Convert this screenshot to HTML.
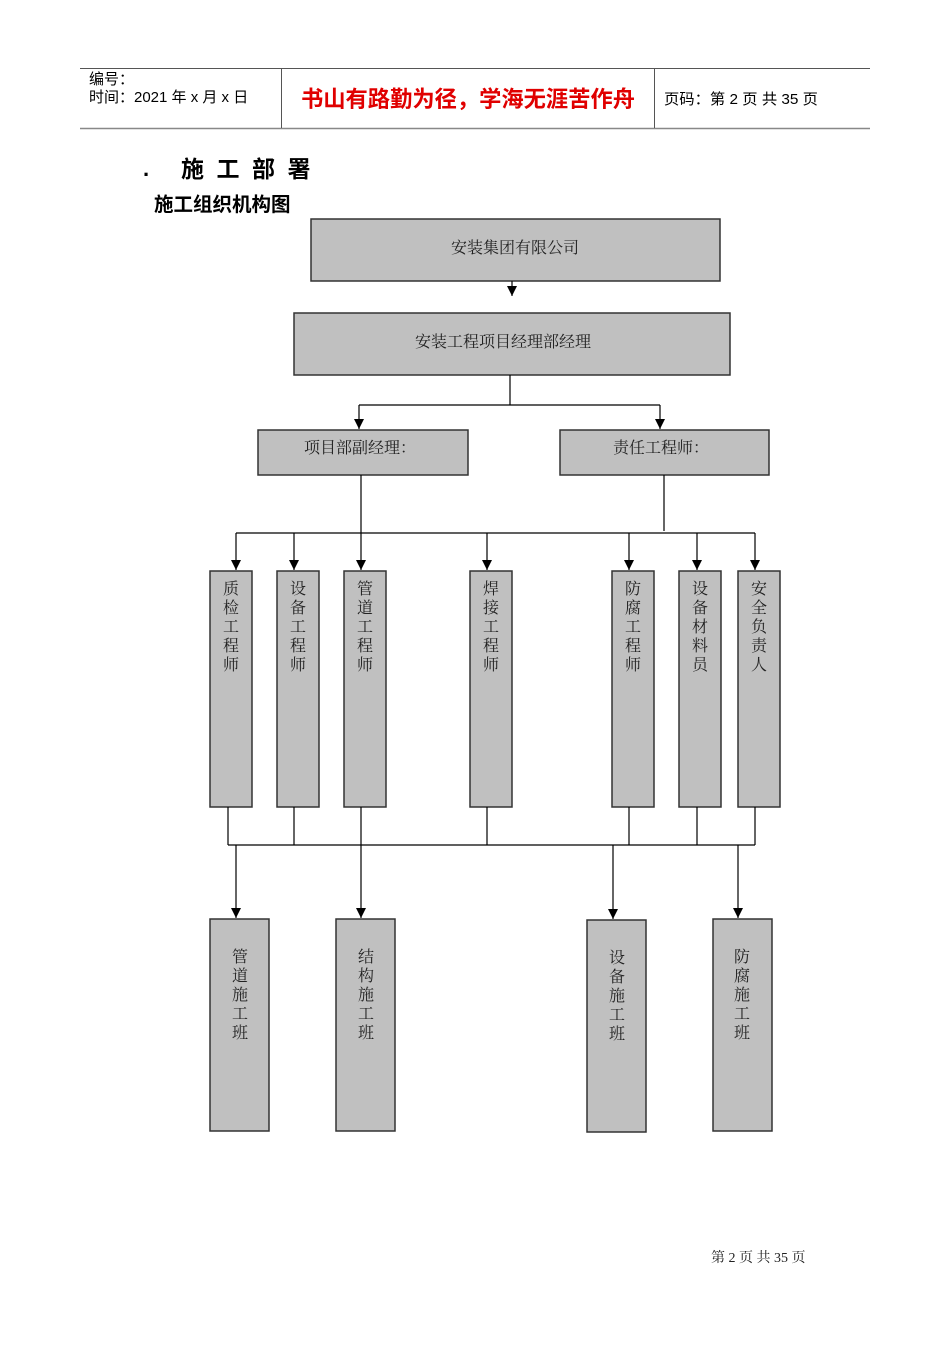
<!DOCTYPE html>
<html><head><meta charset="utf-8"><style>
body{margin:0;background:#fff;}
svg text{font-family:"Liberation Serif","Noto Serif CJK SC",serif;}
.s{font-family:"Liberation Sans","Noto Sans CJK SC",sans-serif !important;}
</style></head><body>
<svg width="950" height="1344" xmlns="http://www.w3.org/2000/svg">
<defs>
<marker id="d" markerWidth="10" markerHeight="10" refX="5" refY="10" orient="0" markerUnits="userSpaceOnUse"><path d="M0,0 L10,0 L5,10 z" fill="#000"/></marker></defs>
<!-- header -->
<line x1="80" y1="68.5" x2="870" y2="68.5" stroke="#555" stroke-width="1"/>
<line x1="80" y1="128.5" x2="870" y2="128.5" stroke="#888" stroke-width="1.5"/>
<line x1="281.5" y1="68" x2="281.5" y2="128" stroke="#555"/>
<line x1="654.5" y1="68" x2="654.5" y2="128" stroke="#555"/>
<text class="s" x="89" y="84" font-size="15">编号：</text>
<text class="s" x="89" y="102" font-size="15">时间：2021 年 x 月 x 日</text>
<text class="s" x="301" y="107" font-size="22.5" fill="#e00000" font-weight="bold" textLength="334" lengthAdjust="spacingAndGlyphs">书山有路勤为径，学海无涯苦作舟</text>
<text class="s" x="664" y="104" font-size="15" textLength="154" lengthAdjust="spacingAndGlyphs">页码：第 2 页 共 35 页</text>
<text class="s" x="143" y="176" font-size="22" font-weight="bold">.</text>
<text class="s" x="181" y="177" font-size="23" font-weight="bold" letter-spacing="12.5">施工部署</text>
<text class="s" x="154" y="211" font-size="19.5" font-weight="bold">施工组织机构图</text>
<g fill="#c0c0c0" stroke="#333" stroke-width="1.5">
<rect x="311" y="219" width="409" height="62"/>
<rect x="294" y="313" width="436" height="62"/>
<rect x="258" y="430" width="210" height="45"/>
<rect x="560" y="430" width="209" height="45"/>
<rect x="210" y="571" width="42" height="236"/>
<rect x="277" y="571" width="42" height="236"/>
<rect x="344" y="571" width="42" height="236"/>
<rect x="470" y="571" width="42" height="236"/>
<rect x="612" y="571" width="42" height="236"/>
<rect x="679" y="571" width="42" height="236"/>
<rect x="738" y="571" width="42" height="236"/>
<rect x="210" y="919" width="59" height="212"/>
<rect x="336" y="919" width="59" height="212"/>
<rect x="587" y="920" width="59" height="212"/>
<rect x="713" y="919" width="59" height="212"/>
</g>
<g stroke="#000" stroke-width="1.2" fill="none">
<line x1="512" y1="281" x2="512" y2="296" marker-end="url(#d)"/>
<line x1="510" y1="375" x2="510" y2="405"/>
<line x1="359" y1="405" x2="660" y2="405"/>
<line x1="359" y1="405" x2="359" y2="429" marker-end="url(#d)"/>
<line x1="660" y1="405" x2="660" y2="429" marker-end="url(#d)"/>
<line x1="361" y1="475" x2="361" y2="533"/>
<line x1="664" y1="475" x2="664" y2="531"/>
<line x1="236" y1="533" x2="755" y2="533"/>
<line x1="236" y1="533" x2="236" y2="570" marker-end="url(#d)"/>
<line x1="294" y1="533" x2="294" y2="570" marker-end="url(#d)"/>
<line x1="361" y1="533" x2="361" y2="570" marker-end="url(#d)"/>
<line x1="487" y1="533" x2="487" y2="570" marker-end="url(#d)"/>
<line x1="629" y1="533" x2="629" y2="570" marker-end="url(#d)"/>
<line x1="697" y1="533" x2="697" y2="570" marker-end="url(#d)"/>
<line x1="755" y1="533" x2="755" y2="570" marker-end="url(#d)"/>
<path d="M228 807V845M294 807V845M361 807V845M487 807V845M629 807V845M697 807V845M755 807V845M228 845H755"/>
<line x1="236" y1="845" x2="236" y2="918" marker-end="url(#d)"/>
<line x1="361" y1="845" x2="361" y2="918" marker-end="url(#d)"/>
<line x1="613" y1="845" x2="613" y2="919" marker-end="url(#d)"/>
<line x1="738" y1="845" x2="738" y2="918" marker-end="url(#d)"/>
</g>
<g font-size="16" fill="#222" text-anchor="middle">
<text x="515" y="253">安装集团有限公司</text>
<text x="503" y="347">安装工程项目经理部经理</text>
<text x="360" y="453">项目部副经理：</text>
<text x="661" y="453">责任工程师：</text>
</g>
<g font-size="16" fill="#222" text-anchor="middle">
<text x="231" y="594"><tspan x="231">质</tspan><tspan x="231" dy="19">检</tspan><tspan x="231" dy="19">工</tspan><tspan x="231" dy="19">程</tspan><tspan x="231" dy="19">师</tspan></text>
<text x="298" y="594"><tspan x="298">设</tspan><tspan x="298" dy="19">备</tspan><tspan x="298" dy="19">工</tspan><tspan x="298" dy="19">程</tspan><tspan x="298" dy="19">师</tspan></text>
<text x="365" y="594"><tspan x="365">管</tspan><tspan x="365" dy="19">道</tspan><tspan x="365" dy="19">工</tspan><tspan x="365" dy="19">程</tspan><tspan x="365" dy="19">师</tspan></text>
<text x="491" y="594"><tspan x="491">焊</tspan><tspan x="491" dy="19">接</tspan><tspan x="491" dy="19">工</tspan><tspan x="491" dy="19">程</tspan><tspan x="491" dy="19">师</tspan></text>
<text x="633" y="594"><tspan x="633">防</tspan><tspan x="633" dy="19">腐</tspan><tspan x="633" dy="19">工</tspan><tspan x="633" dy="19">程</tspan><tspan x="633" dy="19">师</tspan></text>
<text x="700" y="594"><tspan x="700">设</tspan><tspan x="700" dy="19">备</tspan><tspan x="700" dy="19">材</tspan><tspan x="700" dy="19">料</tspan><tspan x="700" dy="19">员</tspan></text>
<text x="759" y="594"><tspan x="759">安</tspan><tspan x="759" dy="19">全</tspan><tspan x="759" dy="19">负</tspan><tspan x="759" dy="19">责</tspan><tspan x="759" dy="19">人</tspan></text>
<text x="240" y="962"><tspan x="240">管</tspan><tspan x="240" dy="19">道</tspan><tspan x="240" dy="19">施</tspan><tspan x="240" dy="19">工</tspan><tspan x="240" dy="19">班</tspan></text>
<text x="366" y="962"><tspan x="366">结</tspan><tspan x="366" dy="19">构</tspan><tspan x="366" dy="19">施</tspan><tspan x="366" dy="19">工</tspan><tspan x="366" dy="19">班</tspan></text>
<text x="617" y="963"><tspan x="617">设</tspan><tspan x="617" dy="19">备</tspan><tspan x="617" dy="19">施</tspan><tspan x="617" dy="19">工</tspan><tspan x="617" dy="19">班</tspan></text>
<text x="742" y="962"><tspan x="742">防</tspan><tspan x="742" dy="19">腐</tspan><tspan x="742" dy="19">施</tspan><tspan x="742" dy="19">工</tspan><tspan x="742" dy="19">班</tspan></text>
</g>
<text x="711" y="1262" font-size="14" fill="#222">第 2 页 共 35 页</text>
</svg>
</body></html>
